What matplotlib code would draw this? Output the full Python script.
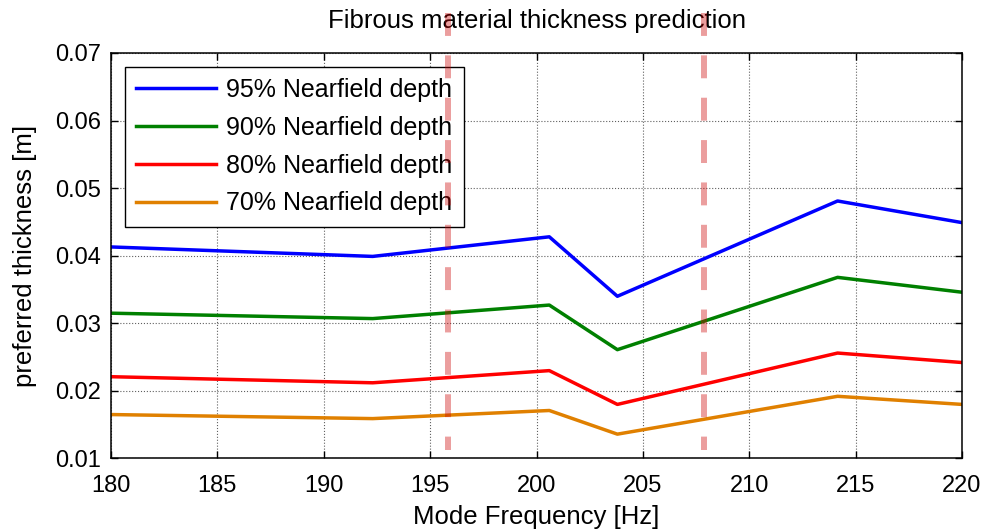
import matplotlib
matplotlib.use("Agg")
import matplotlib.pyplot as plt

plt.rcParams["font.family"] = ["Liberation Sans", "DejaVu Sans"]

freq = [180.0, 192.3, 200.6, 203.8, 214.15, 220.0]
depth_95 = [0.0413, 0.0399, 0.0428, 0.0340, 0.0481, 0.0449]
depth_90 = [0.0315, 0.0307, 0.0327, 0.0261, 0.0368, 0.0346]
depth_80 = [0.0221, 0.0212, 0.0230, 0.0180, 0.0256, 0.0242]
depth_70 = [0.0165, 0.0159, 0.0171, 0.0136, 0.0192, 0.0180]
labels = ["95% Nearfield depth", "90% Nearfield depth",
          "80% Nearfield depth", "70% Nearfield depth"]
colors = ["#0000ff", "#008000", "#ff0000", "#e08000"]

markers_x = [195.85, 207.87]
marker_y = [0.0759, 0.01126]

xticks = [180, 185, 190, 195, 200, 205, 210, 215, 220]
yticks = [0.01, 0.02, 0.03, 0.04, 0.05, 0.06, 0.07]

fig = plt.figure(figsize=(9.86, 5.32), dpi=100)
ax = fig.add_axes([0.1126, 0.1382, 0.8631, 0.7622])

for ys, lab, c in zip([depth_95, depth_90, depth_80, depth_70], labels, colors):
    ax.plot(freq, ys, color=c, lw=2.5, label=lab)

lw_dash = 4.3
for xm in markers_x:
    ax.plot([xm, xm], marker_y, color="#cc0000", alpha=0.38, lw=lw_dash,
            dashes=(16.5 / lw_dash, 14.0 / lw_dash), solid_capstyle="butt",
            dash_capstyle="butt", clip_on=False, zorder=6)

ax.set_xlim(180, 220)
ax.set_ylim(0.01, 0.07)
ax.set_xticks(xticks)
ax.set_yticks(yticks)
ax.set_xticklabels([str(t) for t in xticks])
ax.set_yticklabels([f"{t:.2f}" for t in yticks])
ax.tick_params(direction="in", length=5, width=1, top=True, right=True,
               labelsize=17, colors="black")
ax.tick_params(axis="x", pad=12)
ax.tick_params(axis="y", pad=7)
ax.grid(True, linestyle=":", color="#606060", lw=0.8)
for s in ax.spines.values():
    s.set_linewidth(1.1)
    s.set_color("black")

ax.set_title("Fibrous material thickness prediction", fontsize=18.5, pad=18)
ax.set_xlabel("Mode Frequency [Hz]", fontsize=18.5, labelpad=6)
ax.set_ylabel("preferred thickness [m]", fontsize=18.5, labelpad=13)

leg = ax.legend(loc="upper left", bbox_to_anchor=(0.0165, 0.966), borderaxespad=0,
                fontsize=18, handlelength=3.2, handletextpad=0.4, labelspacing=0.55,
                borderpad=0.45, fancybox=False, framealpha=1, edgecolor="black")
leg.get_frame().set_linewidth(1.0)

fig.savefig("out.png", dpi=100)
